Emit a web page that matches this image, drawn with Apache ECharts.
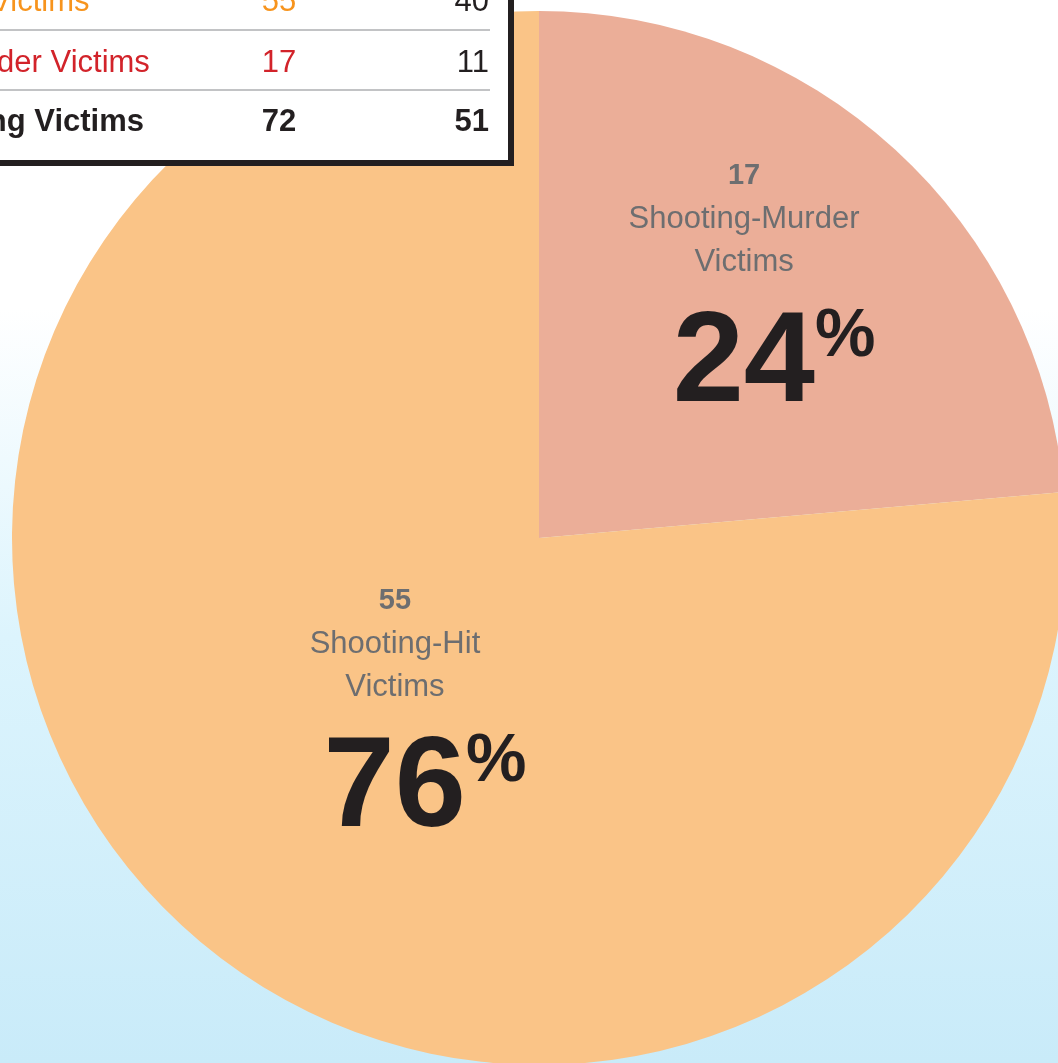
<!DOCTYPE html>
<html>
<head>
<meta charset="utf-8">
<style>
    html, body { margin: 0; padding: 0; }
    #chart { width: 1058px; height: 1063px; }
</style>
<script src="https://cdn.jsdelivr.net/npm/echarts@6/dist/echarts.min.js"></script>
</head>
<body>
<div id="chart"></div>
<script>
// categories and values (table rows / pie slices)
const categories = ["Shooting-Hit Victims", "Shooting-Murder Victims"];
const pieValues = [55, 17];
const secondValues = [40, 11];
const totalLabel = "Total Shooting Victims";
const sliceColors = ["#fac487", "#ebae98"];
const rowColors = ["#f7941d", "#d2232a"];

(function () {
    let chart = echarts.init(document.querySelector("#chart"));

    const sans = "'Liberation Sans', Arial, sans-serif";

    // pie order: murder first (starts at 12 o'clock), then hit
    const order = [1, 0];
    // per slice nudge of the label block
    const nudge = { 1: [25, -40], 0: [36, -8] };

    const pieData = order.map(i => ({
        value: pieValues[i],
        name: categories[i],
        itemStyle: { color: sliceColors[i] }
    }));

    // table rows
    const total1 = pieValues.reduce((a, b) => a + b, 0);
    const total2 = secondValues.reduce((a, b) => a + b, 0);
    const rows = [
        { label: categories[0], a: pieValues[0], b: secondValues[0], color: rowColors[0], bold: false },
        { label: categories[1], a: pieValues[1], b: secondValues[1], color: rowColors[1], bold: false },
        { label: totalLabel, a: total1, b: total2, color: "#231f20", bold: true }
    ];
    const rowY = [2, 63, 122];
    const tableEls = [];
    tableEls.push({
        type: "rect",
        shape: { x: -20, y: -20, width: 531, height: 183 },
        style: { fill: "#fff", stroke: "#231f20", lineWidth: 6 },
        z: 100
    });
    [30, 90].forEach(y => {
        tableEls.push({
            type: "line",
            shape: { x1: 0, y1: y, x2: 490, y2: y },
            style: { stroke: "#c2c3c5", lineWidth: 2 },
            z: 101
        });
    });
    rows.forEach((r, k) => {
        const font = (r.bold ? "bold " : "") + "31px " + sans;
        tableEls.push({
            type: "text", z: 102,
            style: { text: r.label, x: -189, y: rowY[k], font: font, fill: r.color, align: "left", verticalAlign: "middle" }
        });
        tableEls.push({
            type: "text", z: 102,
            style: { text: String(r.a), x: 279, y: rowY[k], font: font, fill: r.color, align: "center", verticalAlign: "middle" }
        });
        tableEls.push({
            type: "text", z: 102,
            style: { text: String(r.b), x: 489, y: rowY[k], font: font, fill: "#231f20", align: "right", verticalAlign: "middle" }
        });
    });

    let option = {
        backgroundColor: {
            type: "linear", x: 0, y: 0, x2: 0, y2: 1,
            colorStops: [
                { offset: 0, color: "#ffffff" },
                { offset: 0.29, color: "#ffffff" },
                { offset: 0.6, color: "#dcf4fd" },
                { offset: 1, color: "#c9ebf9" }
            ]
        },
        animation: false,
        graphic: tableEls,
        series: [
            {
                type: "pie",
                center: [539, 538],
                radius: 527,
                startAngle: 90,
                clockwise: true,
                silent: true,
                labelLine: { show: false },
                emphasis: { disabled: true },
                label: {
                    show: true,
                    position: "inside",
                    formatter: function (p) {
                        const parts = p.name.split(" ");
                        return "{n|" + p.value + "}\n{t|" + parts[0] + "}\n{t|" + parts.slice(1).join(" ") + "}\n{p|" + Math.round(p.percent) + "}{s|%}";
                    },
                    rich: {
                        n: { fontFamily: sans, fontWeight: "bold", fontSize: 29, color: "#6d6e70", lineHeight: 43, align: "center" },
                        t: { fontFamily: sans, fontSize: 31, color: "#6d6e70", lineHeight: 43, align: "center" },
                        p: { fontFamily: sans, fontWeight: "bold", fontSize: 128, color: "#231f20", lineHeight: 165, align: "center", padding: [0, 0, 0, 60] },
                        s: { fontFamily: sans, fontWeight: "bold", fontSize: 68, color: "#231f20", verticalAlign: "top", align: "center", padding: [20, 0, 0, 0] }
                    }
                },
                labelLayout: function (params) {
                    const idx = order[params.dataIndex];
                    return { dx: nudge[idx][0], dy: nudge[idx][1] };
                },
                data: pieData
            }
        ]
    };

    chart.setOption(option);

    window.addEventListener("resize", () => chart.resize());
})();
</script>
</body>
</html>
